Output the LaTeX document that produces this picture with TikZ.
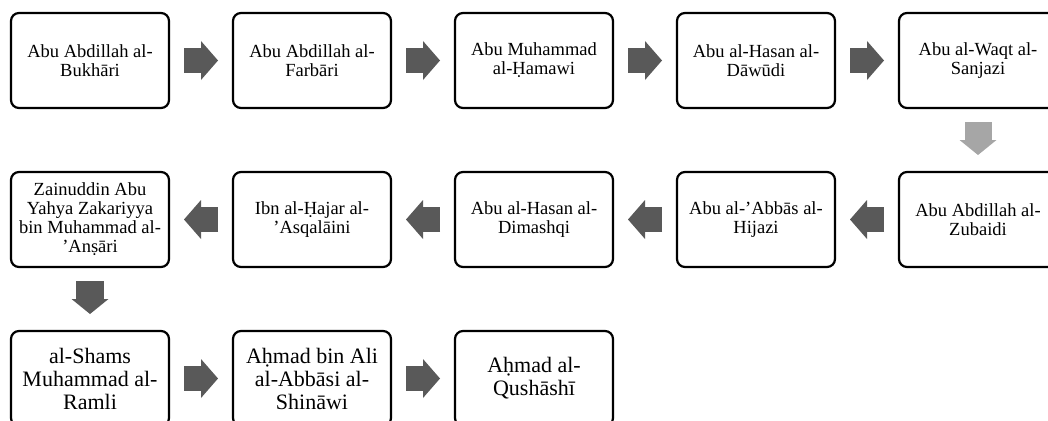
\documentclass[tikz,border=0pt]{standalone}
\usepackage{fontspec}
\setmainfont{Liberation Serif}
\usepackage{xcolor}
\usepackage{tikz}
\usetikzlibrary{arrows.meta,positioning}

\definecolor{arrowdark}{RGB}{89,89,89}
\definecolor{arrowlight}{RGB}{166,166,166}

\begin{document}
\begin{tikzpicture}[
    node distance=64pt,
    namebox/.style={draw, line width=2.2pt, rounded corners=8pt, fill=white, outer sep=0pt, minimum height=95pt, minimum width=158pt, align=center, font=\fontsize{18.5pt}{19pt}\selectfont},
    bigbox/.style={namebox, font=\fontsize{22pt}{23pt}\selectfont},
    arr/.style={-{Triangle[length=17pt, width=39pt, line width=0pt]}, line width=25pt, draw=arrowdark, shorten <=15pt, shorten >=15pt},
    downarr/.style={-{Triangle[length=15pt, width=37pt, line width=0pt]}, line width=28pt, draw=arrowdark, shorten <=14pt, shorten >=17pt}
]
\useasboundingbox (0,0) rectangle (1048pt,-420pt);
\clip (0,0) rectangle (1048pt,-420pt);

\node[namebox] (bukhari) at (90pt,-60.5pt) {Abu Abdillah al-\\Bukhāri};
\node[namebox, right=of bukhari] (farbari) {Abu Abdillah al-\\Farbāri};
\node[namebox, right=of farbari] (hamawi) {Abu Muhammad\\al-Ḥamawi};
\node[namebox, right=of hamawi] (dawudi) {Abu al-Hasan al-\\Dāwūdi};
\node[namebox, right=of dawudi] (sanjazi) {Abu al-Waqt al-\\Sanjazi};

\node[namebox, below=of sanjazi] (zubaidi) {Abu Abdillah al-\\Zubaidi};
\node[namebox, left=of zubaidi] (hijazi) {Abu al-’Abbās al-\\Hijazi};
\node[namebox, left=of hijazi] (dimashqi) {Abu al-Hasan al-\\Dimashqi};
\node[namebox, left=of dimashqi] (asqalani) {Ibn al-Ḥajar al-\\’Asqalāini};
\node[namebox, left=of asqalani] (ansari) {Zainuddin Abu\\Yahya Zakariyya\\bin Muhammad al-\\’Anṣāri};

\node[bigbox, below=of ansari] (ramli) {al-Shams\\Muhammad al-\\Ramli};
\node[bigbox, right=of ramli] (shinawi) {Aḥmad bin Ali\\al-Abbāsi al-\\Shināwi};
\node[bigbox, right=of shinawi] (qushashi) {Aḥmad al-\\Qushāshī};

\draw[arr] (bukhari) -- (farbari);
\draw[arr] (farbari) -- (hamawi);
\draw[arr] (hamawi) -- (dawudi);
\draw[arr] (dawudi) -- (sanjazi);
\draw[downarr, draw=arrowlight, line width=27pt] (sanjazi) -- (zubaidi);
\draw[arr] (zubaidi) -- (hijazi);
\draw[arr] (hijazi) -- (dimashqi);
\draw[arr] (dimashqi) -- (asqalani);
\draw[arr] (asqalani) -- (ansari);
\draw[downarr] (ansari) -- (ramli);
\draw[arr] (ramli) -- (shinawi);
\draw[arr] (shinawi) -- (qushashi);
\end{tikzpicture}
\end{document}
